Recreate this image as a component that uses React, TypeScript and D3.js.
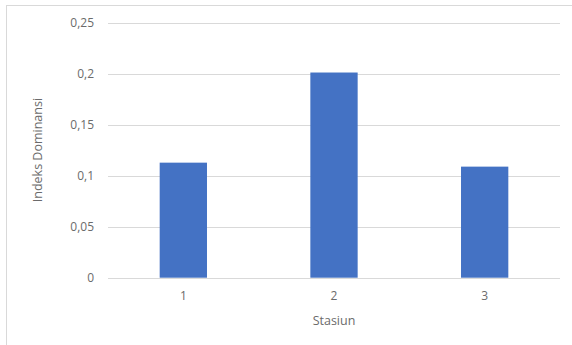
import React from "react";
import * as d3 from "d3";

const categories = ["1", "2", "3"];
const values = [0.1127, 0.201, 0.1088];
const yTicks = [0, 0.05, 0.1, 0.15, 0.2, 0.25];
const yTickLabels = ["0", "0,05", "0,1", "0,15", "0,2", "0,25"];
const xTitle = "Stasiun";
const yTitle = "Indeks Dominansi";

const W = 572;
const H = 345;
const plot = { left: 108, right: 560, top: 22.5, bottom: 277.7 };
const font = "'Open Sans', 'Liberation Sans', sans-serif";
const textColor = "#6b6b6b";
const tickSize = 12;
const titleSize = 12.5;

export default function App() {
  const x = d3
    .scaleBand<string>()
    .domain(categories)
    .range([plot.left, plot.right])
    .paddingInner(0.686)
    .paddingOuter(0.343);
  const y = d3.scaleLinear().domain([0, 0.25]).range([plot.bottom, plot.top]);

  return (
    <svg
      width={W}
      height={H}
      style={{ position: "absolute", left: 0, top: 0, background: "#fff" }}
    >
      {/* chart frame */}
      <line x1={6} y1={5.5} x2={W} y2={5.5} stroke="#d9d9d9" />
      <line x1={6.5} y1={5} x2={6.5} y2={H} stroke="#d9d9d9" />

      {/* gridlines and tick labels */}
      {yTicks.map((t, i) => (
        <g key={t}>
          <line
            x1={plot.left}
            x2={plot.right}
            y1={Math.round(y(t)) + 0.5}
            y2={Math.round(y(t)) + 0.5}
            stroke="#d9d9d9"
          />
          <text
            x={94}
            y={y(t)}
            dy="0.35em"
            textAnchor="end"
            fontFamily={font}
            fontSize={tickSize}
            fill={textColor}
          >
            {yTickLabels[i]}
          </text>
        </g>
      ))}

      {/* bars */}
      {categories.map((c, i) => (
        <rect
          key={c}
          x={x(c)}
          y={y(values[i])}
          width={x.bandwidth()}
          height={y(0) - y(values[i])}
          fill="#4472C4"
        />
      ))}

      {/* category labels */}
      {categories.map((c) => (
        <text
          key={c}
          x={(x(c) ?? 0) + x.bandwidth() / 2}
          y={296}
          dy="0.35em"
          textAnchor="middle"
          fontFamily={font}
          fontSize={tickSize}
          fill={textColor}
        >
          {c}
        </text>
      ))}

      {/* axis titles */}
      <text
        x={(plot.left + plot.right) / 2}
        y={321}
        dy="0.35em"
        textAnchor="middle"
        fontFamily={font}
        fontSize={titleSize}
        fill={textColor}
      >
        {xTitle}
      </text>
      <text
        transform={`translate(38, ${(plot.top + plot.bottom) / 2}) rotate(-90)`}
        dy="0.35em"
        textAnchor="middle"
        fontFamily={font}
        fontSize={titleSize}
        fill={textColor}
      >
        {yTitle}
      </text>
    </svg>
  );
}
